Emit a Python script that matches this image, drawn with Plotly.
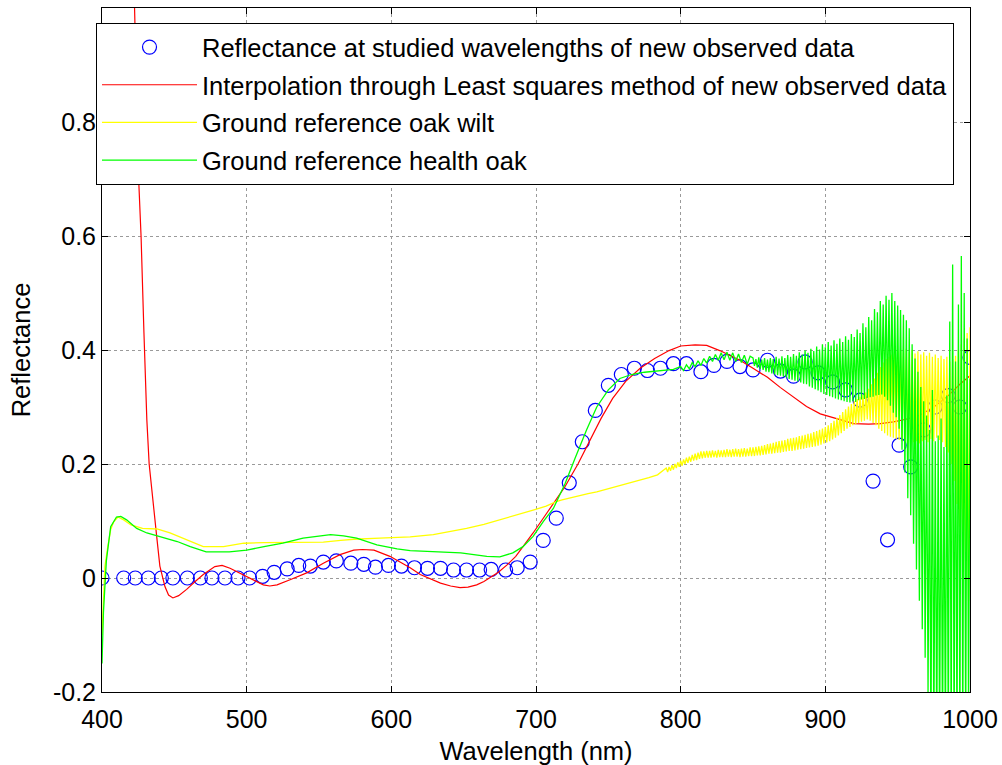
import plotly.graph_objects as go

# Sampled reflectance at the studied wavelengths (new observed data)
obs_wl = [400, 415, 423, 432, 441, 449, 459, 468, 476, 485, 494, 502, 511, 519,
          528, 536, 544, 553, 562, 572, 581, 589, 598, 607, 616, 625, 634, 643,
          652, 661, 669, 679, 687, 696, 705, 714, 723, 732, 741, 750, 759, 768,
          777, 786, 795, 804, 814, 823, 832, 841, 850, 860, 869, 878, 886, 895,
          905, 914, 924, 933, 943, 951, 959, 968, 976, 985, 993, 1000]
obs_refl = [0.0, 0.0, 0.0, 0.0, 0.0, 0.0, 0.0, 0.0, 0.0, 0.0, 0.0, 0.0, 0.003, 0.010,
            0.016, 0.022, 0.021, 0.028, 0.030, 0.026, 0.024, 0.019, 0.022, 0.021, 0.018, 0.017, 0.017, 0.014,
            0.014, 0.014, 0.015, 0.014, 0.018, 0.028, 0.066, 0.105, 0.167, 0.239, 0.294, 0.338, 0.357, 0.368,
            0.364, 0.368, 0.376, 0.376, 0.362, 0.373, 0.380, 0.371, 0.365, 0.382, 0.363, 0.354, 0.379, 0.360,
            0.344, 0.330, 0.312, 0.170, 0.067, 0.233, 0.195, 0.260, 0.300, 0.320, 0.300, 0.387]

# Least-squares interpolation curve through the observed data
fit_wl = [400, 410, 416, 420, 422.5, 425.5, 427, 429, 431, 432.6, 434.3, 436, 437.8, 440,
          443.5, 446, 449, 453, 458.5, 464, 470, 478, 483, 488.5, 494, 500, 506, 511.5,
          516, 521, 530, 541.5, 553, 564.5, 574, 580, 588, 599, 606, 613, 620, 627, 634,
          641, 647.5, 653, 659, 664, 668, 674, 680, 686, 691, 698, 707.5, 712, 720, 729,
          737, 745, 753, 762, 772, 782, 792, 800, 810, 818, 827, 834, 841, 850, 860, 869,
          878, 887, 896.5, 903, 908, 914, 919.6, 930, 938, 947, 955, 965, 975, 985, 993, 1000]
fit_refl = [4.0, 2.2, 1.5, 1.18, 1.0, 0.69, 0.60, 0.43, 0.277, 0.20, 0.154, 0.11, 0.073, 0.021,
            -0.015, -0.030, -0.035, -0.031, -0.020, -0.007, 0.006, 0.020, 0.022, 0.017, 0.010, 0.003, -0.006, -0.012,
            -0.014, -0.012, -0.003, 0.009, 0.026, 0.041, 0.049, 0.050, 0.049, 0.038, 0.028, 0.018, 0.006, -0.002, -0.009,
            -0.014, -0.017, -0.016, -0.012, -0.006, 0.0, 0.010, 0.023, 0.038, 0.055, 0.079, 0.114, 0.131, 0.160, 0.200,
            0.240, 0.280, 0.315, 0.345, 0.368, 0.385, 0.399, 0.407, 0.409, 0.408, 0.399, 0.391, 0.382, 0.368, 0.352, 0.334,
            0.317, 0.301, 0.288, 0.283, 0.280, 0.275, 0.271, 0.270, 0.271, 0.274, 0.278, 0.285, 0.300, 0.320, 0.340, 0.355]

# Ground reference spectrum: oak wilt
wilt_wl = [400, 402, 404, 406, 408, 411, 415, 420, 428, 438, 447, 456, 463, 470, 484, 490,
           498, 512, 530, 553, 565, 574, 592, 606, 613, 629, 640, 652, 664, 675, 687, 698,
           707, 714, 718, 724, 730, 736, 742, 748, 754, 760, 766, 772, 778, 784,
           790, 791, 792, 793, 794, 795, 796, 797, 798, 799, 800, 801, 802, 803, 804, 805,
           806, 807, 808, 809, 810, 811, 812, 813, 814, 815, 816, 817, 818, 819, 820, 821,
           822, 823, 824, 825, 826, 827, 828, 829, 830, 831, 832, 833, 834, 835, 836, 837,
           838, 839, 840, 841, 842, 843, 844, 845, 846, 847, 848, 849, 850, 851, 852, 853,
           854, 855, 856, 857, 858, 859, 860, 861, 862, 863, 864, 865, 866, 867, 868, 869,
           870, 871, 872, 873, 874, 875, 876, 877, 878, 879, 880, 881, 882, 883, 884, 885,
           886, 887, 888, 889, 890, 891, 892, 893, 894, 895, 896, 897, 898, 899, 900, 901,
           902, 903, 904, 905, 906, 907, 908, 909, 910, 911, 912, 913, 914, 915, 916, 917,
           918, 919, 920, 921, 922, 923, 924, 925, 926, 927, 928, 929, 930, 931, 932, 933,
           934, 935, 936, 937, 938, 939, 940, 941, 942, 943, 944, 945, 946, 947, 948, 949,
           950, 951, 952, 953, 954, 955, 956, 957, 958, 959, 960, 961, 962, 963, 964, 965,
           966, 967, 968, 969, 970, 971, 972, 973, 974, 975, 976, 977, 978, 979, 980, 981,
           982, 983, 984, 985, 986, 987, 988, 989, 990, 991, 992, 993, 994, 995, 996, 997,
           998, 999, 1000]
wilt_refl = [-0.100, 0.020, 0.055, 0.085, 0.098, 0.107, 0.102, 0.093, 0.087, 0.086, 0.079, 0.070, 0.062, 0.055, 0.055, 0.058,
             0.061, 0.062, 0.062, 0.063, 0.066, 0.068, 0.070, 0.071, 0.072, 0.076, 0.081, 0.087, 0.094, 0.102, 0.110, 0.119,
             0.126, 0.134, 0.137, 0.141, 0.144, 0.148, 0.151, 0.155, 0.159, 0.163, 0.167, 0.171, 0.176, 0.181,
             0.193, 0.186, 0.195, 0.188, 0.198, 0.190, 0.200, 0.193, 0.203, 0.195, 0.206, 0.197, 0.208, 0.200, 0.211, 0.202,
             0.213, 0.204, 0.216, 0.206, 0.218, 0.207, 0.220, 0.209, 0.222, 0.210, 0.222, 0.211, 0.223, 0.211, 0.223, 0.211,
             0.224, 0.212, 0.223, 0.211, 0.225, 0.212, 0.224, 0.212, 0.225, 0.212, 0.226, 0.213, 0.225, 0.212, 0.226, 0.213,
             0.227, 0.213, 0.226, 0.212, 0.227, 0.213, 0.228, 0.213, 0.227, 0.214, 0.229, 0.214, 0.229, 0.214, 0.230, 0.215,
             0.231, 0.215, 0.232, 0.216, 0.233, 0.217, 0.235, 0.218, 0.236, 0.218, 0.237, 0.219, 0.239, 0.220, 0.240, 0.220,
             0.241, 0.221, 0.242, 0.222, 0.244, 0.223, 0.245, 0.223, 0.246, 0.224, 0.247, 0.225, 0.249, 0.226, 0.250, 0.227,
             0.251, 0.228, 0.253, 0.229, 0.254, 0.230, 0.256, 0.231, 0.258, 0.232, 0.260, 0.234, 0.262, 0.236, 0.265, 0.238,
             0.268, 0.240, 0.272, 0.243, 0.276, 0.246, 0.281, 0.250, 0.286, 0.254, 0.291, 0.258, 0.296, 0.262, 0.301, 0.265,
             0.305, 0.268, 0.310, 0.270, 0.314, 0.272, 0.318, 0.274, 0.322, 0.276, 0.326, 0.278, 0.332, 0.276, 0.340, 0.272,
             0.350, 0.268, 0.360, 0.262, 0.370, 0.258, 0.378, 0.254, 0.384, 0.250, 0.388, 0.248, 0.392, 0.246, 0.395, 0.244,
             0.398, 0.242, 0.400, 0.240, 0.398, 0.238, 0.402, 0.240, 0.396, 0.236, 0.400, 0.238, 0.394, 0.240, 0.398, 0.236,
             0.392, 0.240, 0.396, 0.242, 0.390, 0.238, 0.395, 0.244, 0.388, 0.240, 0.392, 0.246, 0.386, 0.242, 0.390, 0.238,
             0.384, 0.230, 0.388, 0.220, 0.380, 0.200, 0.384, 0.170, 0.390, 0.130, 0.400, 0.090, 0.410, 0.050, 0.420, 0.000,
             0.430, -0.040, 0.440]

# Ground reference spectrum: healthy oak
health_wl = [400, 401, 403, 406, 410, 413, 417, 424, 431, 438, 452, 461, 472, 488, 500, 512,
             525, 539, 550, 558, 567, 576, 590, 604, 613, 629, 648, 666, 675, 684, 691, 698,
             705, 712, 720, 727, 735, 742, 750, 758, 766, 775, 785, 795,
             800, 802, 804, 806, 808, 810, 812, 814, 816, 818, 820, 822, 824, 826, 828, 830,
             832, 834, 836, 838, 840, 842, 844, 846, 848,
             850, 851, 852, 853, 854, 855, 856, 857, 858, 859, 860, 861, 862, 863, 864, 865,
             866, 867, 868, 869, 870, 871, 872, 873, 874, 875, 876, 877, 878, 879, 880, 881,
             882, 883, 884, 885, 886, 887, 888, 889, 890, 891, 892, 893, 894, 895, 896, 897,
             898, 899, 900, 901, 902, 903, 904, 905, 906, 907, 908, 909, 910, 911, 912, 913,
             914, 915, 916, 917, 918, 919, 920, 921, 922, 923, 924, 925, 926, 927, 928, 929,
             930, 931, 932, 933, 934, 935, 936, 937, 938, 939, 940, 941, 942, 943, 944, 945,
             946, 947, 948, 949, 950, 951, 952, 953, 954, 955, 956, 957, 958, 959, 960, 961,
             962, 963, 964, 965, 966, 967, 968, 969, 970, 971, 972, 973, 974, 975, 976, 977,
             978, 979, 980, 981, 982, 983, 984, 985, 986, 987, 988, 989, 990, 991, 992, 993,
             994, 995, 996, 997, 998, 999, 1000]
health_refl = [-0.150, -0.060, 0.030, 0.090, 0.107, 0.108, 0.102, 0.087, 0.079, 0.074, 0.064, 0.055, 0.046, 0.046, 0.049, 0.055,
               0.061, 0.070, 0.074, 0.076, 0.074, 0.070, 0.058, 0.051, 0.048, 0.046, 0.044, 0.038, 0.037, 0.044, 0.055, 0.073,
               0.099, 0.122, 0.165, 0.210, 0.260, 0.300, 0.330, 0.350, 0.357, 0.361, 0.364, 0.366,
               0.371, 0.364, 0.374, 0.367, 0.378, 0.371, 0.381, 0.373, 0.385, 0.377, 0.389, 0.380, 0.392, 0.382, 0.395, 0.383,
               0.396, 0.382, 0.395, 0.380, 0.393, 0.378, 0.391, 0.375, 0.389,
               0.386, 0.372, 0.384, 0.369, 0.387, 0.367, 0.383, 0.365, 0.386, 0.362, 0.383, 0.361, 0.386, 0.359, 0.384, 0.357,
               0.388, 0.356, 0.385, 0.355, 0.389, 0.353, 0.386, 0.352, 0.391, 0.349, 0.388, 0.348, 0.393, 0.346, 0.390, 0.345,
               0.396, 0.343, 0.392, 0.341, 0.399, 0.340, 0.395, 0.336, 0.402, 0.334, 0.398, 0.331, 0.406, 0.329, 0.401, 0.326,
               0.410, 0.323, 0.405, 0.321, 0.414, 0.319, 0.408, 0.317, 0.417, 0.315, 0.411, 0.313, 0.420, 0.312, 0.414, 0.310,
               0.424, 0.309, 0.418, 0.308, 0.428, 0.310, 0.423, 0.309, 0.436, 0.312, 0.430, 0.313, 0.447, 0.314, 0.440, 0.316,
               0.458, 0.317, 0.452, 0.318, 0.472, 0.320, 0.466, 0.321, 0.486, 0.322, 0.480, 0.318, 0.495, 0.312, 0.488, 0.302,
               0.500, 0.290, 0.486, 0.282, 0.478, 0.262, 0.470, 0.225, 0.462, 0.185, 0.452, 0.140, 0.438, 0.110, 0.410, 0.060,
               0.385, 0.015, 0.362, -0.040, 0.335, -0.090, 0.310, -0.140, 0.285, -0.200, 0.260, -0.300, 0.330, -0.300, 0.240, -0.300,
               0.250, -0.300, 0.280, -0.300, 0.230, -0.300, 0.320, -0.300, 0.450, -0.300, 0.550, -0.300, 0.380, -0.300, 0.480, -0.300,
               0.565, -0.300, 0.500, -0.300, 0.420, -0.250, 0.350]

x_ticks = [400, 500, 600, 700, 800, 900, 1000]
y_ticks = [-0.2, 0, 0.2, 0.4, 0.6, 0.8]
y_tick_text = ["-0.2", "0", "0.2", "0.4", "0.6", "0.8"]

fig = go.Figure()
fig.add_trace(go.Scatter(
    x=obs_wl, y=obs_refl, mode="markers", legendgroup="g1",
    name="Reflectance at studied wavelengths of new observed data",
    marker=dict(symbol="circle-open", size=14, color="#0000FF", line=dict(width=1.2, color="#0000FF")),
))
fig.add_trace(go.Scatter(
    x=fit_wl, y=fit_refl, mode="lines", legendgroup="g2",
    name="Interpolation through Least squares method of new observed data",
    line=dict(color="#FF0000", width=1.2),
))
fig.add_trace(go.Scatter(
    x=wilt_wl, y=wilt_refl, mode="lines", legendgroup="g3",
    name="Ground reference oak wilt",
    line=dict(color="#FFFF00", width=1.3),
))
fig.add_trace(go.Scatter(
    x=health_wl, y=health_refl, mode="lines", legendgroup="g4",
    name="Ground reference health oak",
    line=dict(color="#00FF00", width=1.3),
))

axis_common = dict(
    showline=True, linecolor="black", linewidth=1, mirror="ticks",
    ticks="inside", ticklen=6, tickcolor="black", tickwidth=1,
    showgrid=True, gridcolor="#9a9a9a", griddash="dot", gridwidth=1,
    zeroline=False, tickfont=dict(size=25),
)

fig.update_xaxes(range=[400, 1000], tickvals=x_ticks, ticklabelstandoff=5,
                 title=dict(text="Wavelength (nm)", standoff=10, font=dict(size=25.5)), **axis_common)
fig.update_yaxes(range=[-0.2, 1.0], tickvals=y_ticks, ticktext=y_tick_text,
                 title=dict(text="Reflectance", standoff=14, font=dict(size=25.5)), **axis_common)

fig.update_layout(
    width=1002, height=765,
    margin=dict(l=102, r=32, t=8, b=73, autoexpand=False),
    paper_bgcolor="white", plot_bgcolor="white",
    font=dict(family="Liberation Sans, Arial, sans-serif", size=25, color="black"),
    showlegend=True,
    legend=dict(
        x=-0.0069, y=0.978, xanchor="left", yanchor="top",
        bgcolor="white", bordercolor="black", borderwidth=1,
        font=dict(size=25.5), itemwidth=95, tracegroupgap=1.5,
        entrywidth=769, entrywidthmode="pixels",
    ),
)

fig.write_html("out.html")
